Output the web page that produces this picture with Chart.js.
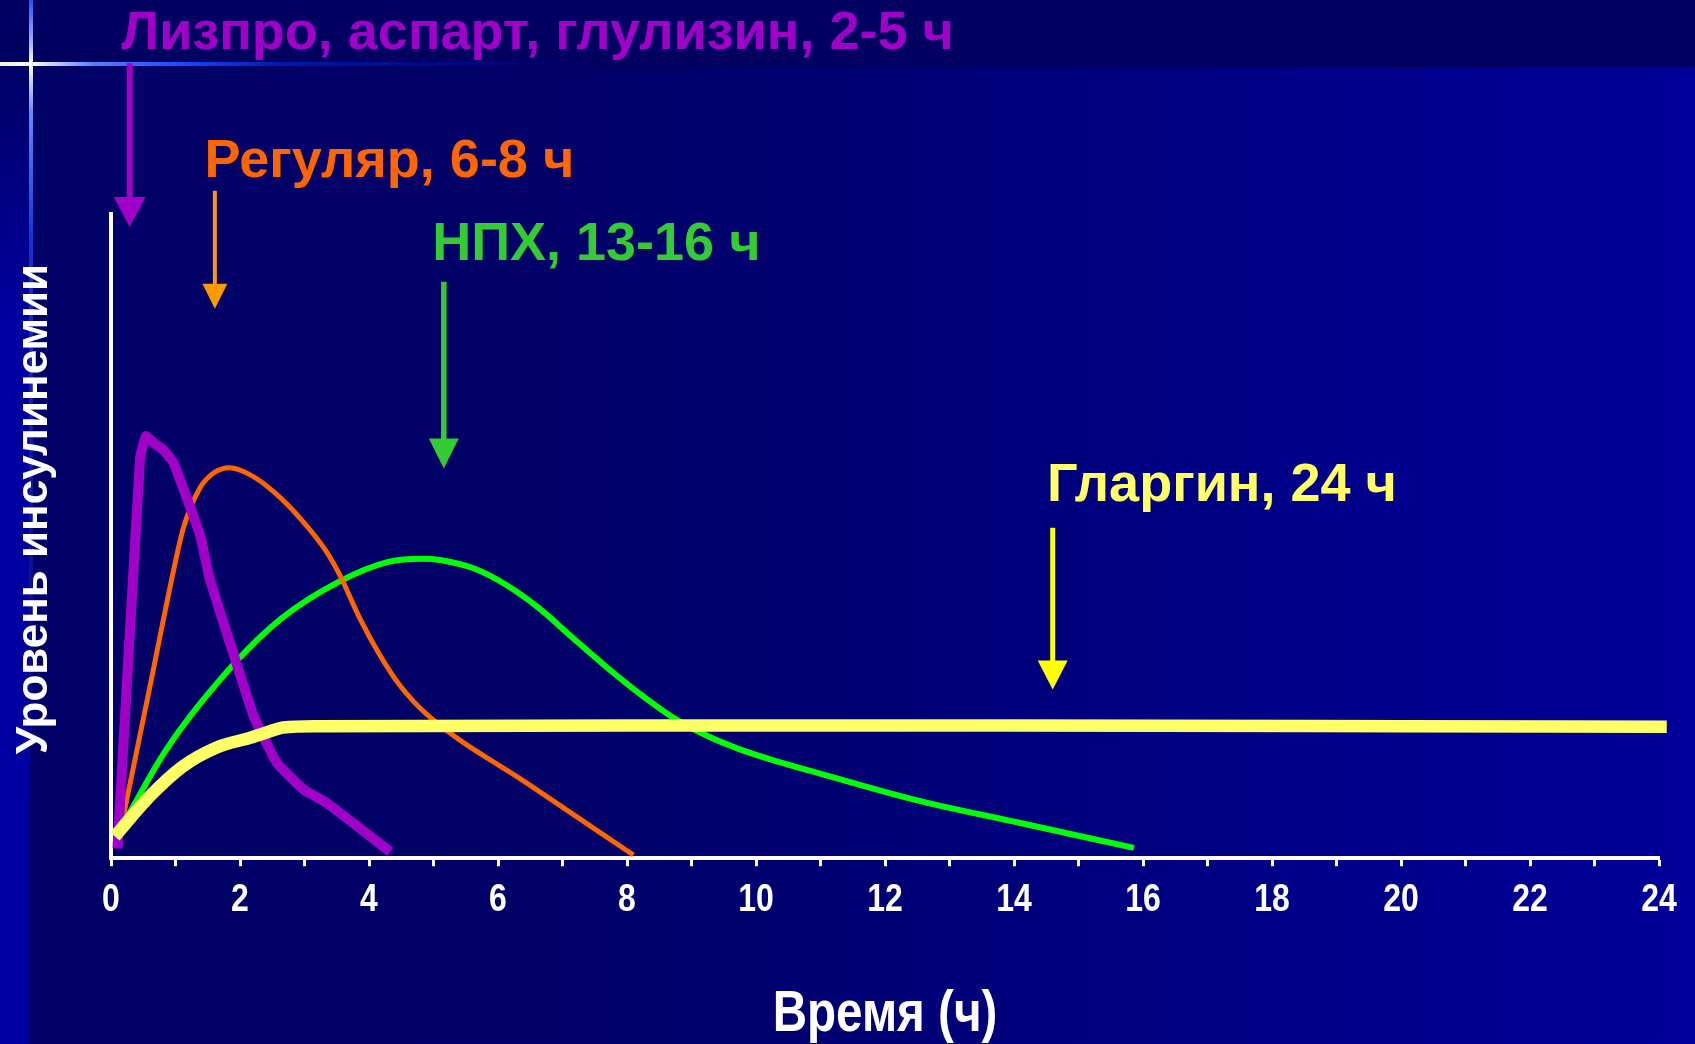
<!DOCTYPE html>
<html lang="ru">
<head>
<meta charset="utf-8">
<title>Профили действия инсулинов</title>
<script src="https://cdn.jsdelivr.net/npm/chart.js@4.4.1/dist/chart.umd.min.js"></script>
<style>
  html, body { margin: 0; padding: 0; background: #000066; }
  #wrap { width: 1695px; height: 1044px; position: relative; }
</style>
</head>
<body>
<div id="wrap"><canvas id="insulinChart"></canvas></div>
<script>
// x axis labels (hours), one per even hour
const xTickLabels = ['0', '2', '4', '6', '8', '10', '12', '14', '16', '18', '20', '22', '24'];

// Лизпро, аспарт, глулизин
const lisproHours = [0.10, 0.45, 0.54, 0.66, 0.81, 0.97, 1.38, 1.53, 2.21, 2.57, 2.98, 3.34, 4.33];
const lisproLevel = [0.15, 6.20, 6.55, 6.45, 6.34, 6.14, 5.02, 4.34, 2.21, 1.48, 1.07, 0.86, 0.10];

// Регуляр
const regularHours = [0.12, 0.56, 1.02, 1.12, 1.38, 1.59, 1.84, 2.16, 2.52, 2.93, 3.34, 3.55, 3.86, 4.17, 4.48, 4.91, 6.50, 8.10];
const regularLevel = [0.30, 2.45, 4.70, 5.12, 5.75, 5.98, 6.06, 5.95, 5.69, 5.28, 4.76, 4.39, 3.72, 3.15, 2.68, 2.22, 1.13, 0.05];

// НПХ
const nphHours = [0.12, 0.86, 1.93, 2.64, 3.53, 4.30, 4.84, 5.10, 5.62, 6.13, 6.65, 7.17, 7.69, 8.20, 8.72, 9.24, 9.75, 10.27, 10.83, 12.45, 14.08, 15.86];
const nphLevel = [0.40, 1.69, 3.04, 3.72, 4.29, 4.60, 4.65, 4.63, 4.50, 4.24, 3.87, 3.41, 2.96, 2.55, 2.18, 1.90, 1.69, 1.52, 1.36, 0.91, 0.55, 0.16];

// Гларгин
const glarginHours = [0.06, 0.60, 1.12, 1.64, 2.16, 2.41, 2.67, 3.19, 8, 14, 20, 24.12];
const glarginLevel = [0.34, 0.96, 1.43, 1.72, 1.87, 1.95, 2.03, 2.05, 2.06, 2.06, 2.05, 2.04];

const ARIAL = "'Liberation Sans', Arial, sans-serif";

function toPoints(xs, ys) {
    return xs.map((x, i) => ({ x: x, y: ys[i] }));
}

// Chart.js has no condensed font option, so squeeze the x labels/title
// horizontally to get the Arial Narrow look of the slide
class NarrowLinearScale extends Chart.LinearScale {
    squeezed(draw) {
        const ctx = this.ctx;
        const k = this.options.squeeze || 1;
        const rotate = ctx.rotate;
        ctx.rotate = function (a) { rotate.call(ctx, a); ctx.scale(k, 1); };
        try { draw(); } finally { delete ctx.rotate; }
    }
    drawLabels(area) { this.squeezed(() => super.drawLabels(area)); }
    drawTitle() { this.squeezed(() => super.drawTitle()); }
}
NarrowLinearScale.id = 'narrowLinear';
Chart.register(NarrowLinearScale);

// labels + arrows, anchored in data units (hours / level)
const notes = [
    { text: 'Лизпро, аспарт, глулизин, 2-5 ч', color: '#a000c8', tx: 0.16, ty: 12.56,
      arrow: { x: 0.29, from: 12.34, to: 9.80, color: '#a000c8', width: 6, head: 30, headW: 32 } },
    { text: 'Регуляр, 6-8 ч', color: '#ff6600', tx: 1.45, ty: 10.58,
      arrow: { x: 1.61, from: 10.36, to: 8.53, color: '#ff9900', width: 4, head: 25, headW: 25 } },
    { text: 'НПХ, 13-16 ч', color: '#33cc33', tx: 4.98, ty: 9.28,
      arrow: { x: 5.16, from: 8.95, to: 6.05, color: '#33cc33', width: 5.5, head: 30, headW: 30 } },
    { text: 'Гларгин, 24 ч', color: '#ffff66', tx: 14.51, ty: 5.54,
      arrow: { x: 14.60, from: 5.13, to: 2.62, color: '#ffff00', width: 5, head: 29, headW: 30 } }
];

// slide background: gradient, dark top band, left strip and the little sparkle cross
const backdrop = {
    id: 'backdrop',
    beforeDraw(chart) {
        const ctx = chart.ctx;
        const w = chart.width, h = chart.height;
        ctx.save();
        const g = ctx.createLinearGradient(0, 0, w, 0);
        g.addColorStop(0, '#000066');
        g.addColorStop(0.35, '#000068');
        g.addColorStop(1, '#00009a');
        ctx.fillStyle = g;
        ctx.fillRect(0, 0, w, h);

        const strip = ctx.createLinearGradient(0, 67, 0, 320);
        strip.addColorStop(0, '#000066');
        strip.addColorStop(1, '#0000a0');
        ctx.fillStyle = strip;
        ctx.fillRect(0, 67, 30, h - 67);

        ctx.fillStyle = '#000060';
        ctx.fillRect(0, 0, w, 67);

        const hl = ctx.createLinearGradient(0, 0, 620, 0);
        hl.addColorStop(0, 'rgba(255,255,215,0.95)');
        hl.addColorStop(0.05, '#ffffff');
        hl.addColorStop(0.15, '#5580ff');
        hl.addColorStop(0.3, '#1a44ff');
        hl.addColorStop(0.45, '#0018b0');
        hl.addColorStop(1, 'rgba(0,0,160,0)');
        ctx.fillStyle = hl;
        ctx.fillRect(0, 62, 620, 4);

        const vl = ctx.createLinearGradient(0, 0, 0, 800);
        vl.addColorStop(0, '#2255ee');
        vl.addColorStop(0.05, '#99aaff');
        vl.addColorStop(0.08, '#ffffff');
        vl.addColorStop(0.14, '#6688ff');
        vl.addColorStop(0.3, '#1133cc');
        vl.addColorStop(1, 'rgba(20,40,200,0)');
        ctx.fillStyle = vl;
        ctx.fillRect(29, 0, 4, 800);
        ctx.restore();
    }
};

const annotations = {
    id: 'annotations',
    afterDraw(chart) {
        const ctx = chart.ctx;
        const xs = chart.scales.x, ys = chart.scales.y;
        ctx.save();
        notes.forEach(n => {
            const a = n.arrow;
            const ax = xs.getPixelForValue(a.x);
            const top = ys.getPixelForValue(a.from);
            const tip = ys.getPixelForValue(a.to);
            ctx.strokeStyle = a.color;
            ctx.fillStyle = a.color;
            ctx.lineWidth = a.width;
            ctx.beginPath();
            ctx.moveTo(ax, top);
            ctx.lineTo(ax, tip - a.head + 2);
            ctx.stroke();
            ctx.beginPath();
            ctx.moveTo(ax - a.headW / 2, tip - a.head);
            ctx.lineTo(ax + a.headW / 2, tip - a.head);
            ctx.lineTo(ax, tip);
            ctx.closePath();
            ctx.fill();

            ctx.font = 'bold 54px ' + ARIAL;
            ctx.textAlign = 'left';
            ctx.textBaseline = 'alphabetic';
            ctx.fillStyle = n.color;
            ctx.fillText(n.text, xs.getPixelForValue(n.tx), ys.getPixelForValue(n.ty));
        });

        // y axis caption
        ctx.translate(47, 509);
        ctx.rotate(-Math.PI / 2);
        ctx.font = 'bold 44px ' + ARIAL;
        ctx.textAlign = 'center';
        ctx.textBaseline = 'alphabetic';
        ctx.fillStyle = '#ffffff';
        ctx.fillText('Уровень инсулинемии', 0, 0);
        ctx.restore();
    }
};

new Chart(document.getElementById('insulinChart'), {
    type: 'line',
    data: {
        datasets: [
            { label: 'Гларгин', data: toPoints(glarginHours, glarginLevel), borderColor: '#ffff66', borderWidth: 12.5, order: 0, cubicInterpolationMode: 'monotone' },
            { label: 'Лизпро, аспарт, глулизин', data: toPoints(lisproHours, lisproLevel), borderColor: '#a000c8', borderWidth: 10, order: 1, tension: 0.1, borderJoinStyle: 'round' },
            { label: 'Регуляр', data: toPoints(regularHours, regularLevel), borderColor: '#ff6600', borderWidth: 5, order: 2, cubicInterpolationMode: 'monotone' },
            { label: 'НПХ', data: toPoints(nphHours, nphLevel), borderColor: '#00ff00', borderWidth: 6, order: 3, cubicInterpolationMode: 'monotone' }
        ]
    },
    options: {
        responsive: true,
        maintainAspectRatio: false,
        animation: false,
        layout: { padding: { left: 111, right: 36, top: 214, bottom: 0 } },
        datasets: { line: { clip: false, fill: false, pointRadius: 0 } },
        plugins: { legend: { display: false }, tooltip: { enabled: false } },
        scales: {
            x: {
                type: 'narrowLinear',
                squeeze: 0.82,
                min: 0,
                max: 24,
                ticks: {
                    stepSize: 1,
                    autoSkip: false,
                    maxRotation: 0,
                    color: '#ffffff',
                    padding: 11,
                    font: { family: ARIAL, weight: 'bold', size: 39 },
                    callback: v => (v % 2 === 0 ? xTickLabels[v / 2] : '')
                },
                grid: { display: true, drawOnChartArea: false, drawTicks: true, tickLength: 8, tickWidth: 3, tickColor: '#ffffff' },
                border: { display: true, color: '#ffffff', width: 4 },
                title: {
                    display: true,
                    text: 'Время (ч)',
                    color: '#ffffff',
                    font: { family: ARIAL, weight: 'bold', size: 58, lineHeight: 1 },
                    padding: { top: 51, bottom: 0 }
                }
            },
            y: {
                min: 0,
                max: 10,
                ticks: { display: false },
                grid: { display: false, drawTicks: false },
                border: { display: true, color: '#ffffff', width: 4 }
            }
        }
    },
    plugins: [backdrop, annotations]
});
</script>
</body>
</html>
